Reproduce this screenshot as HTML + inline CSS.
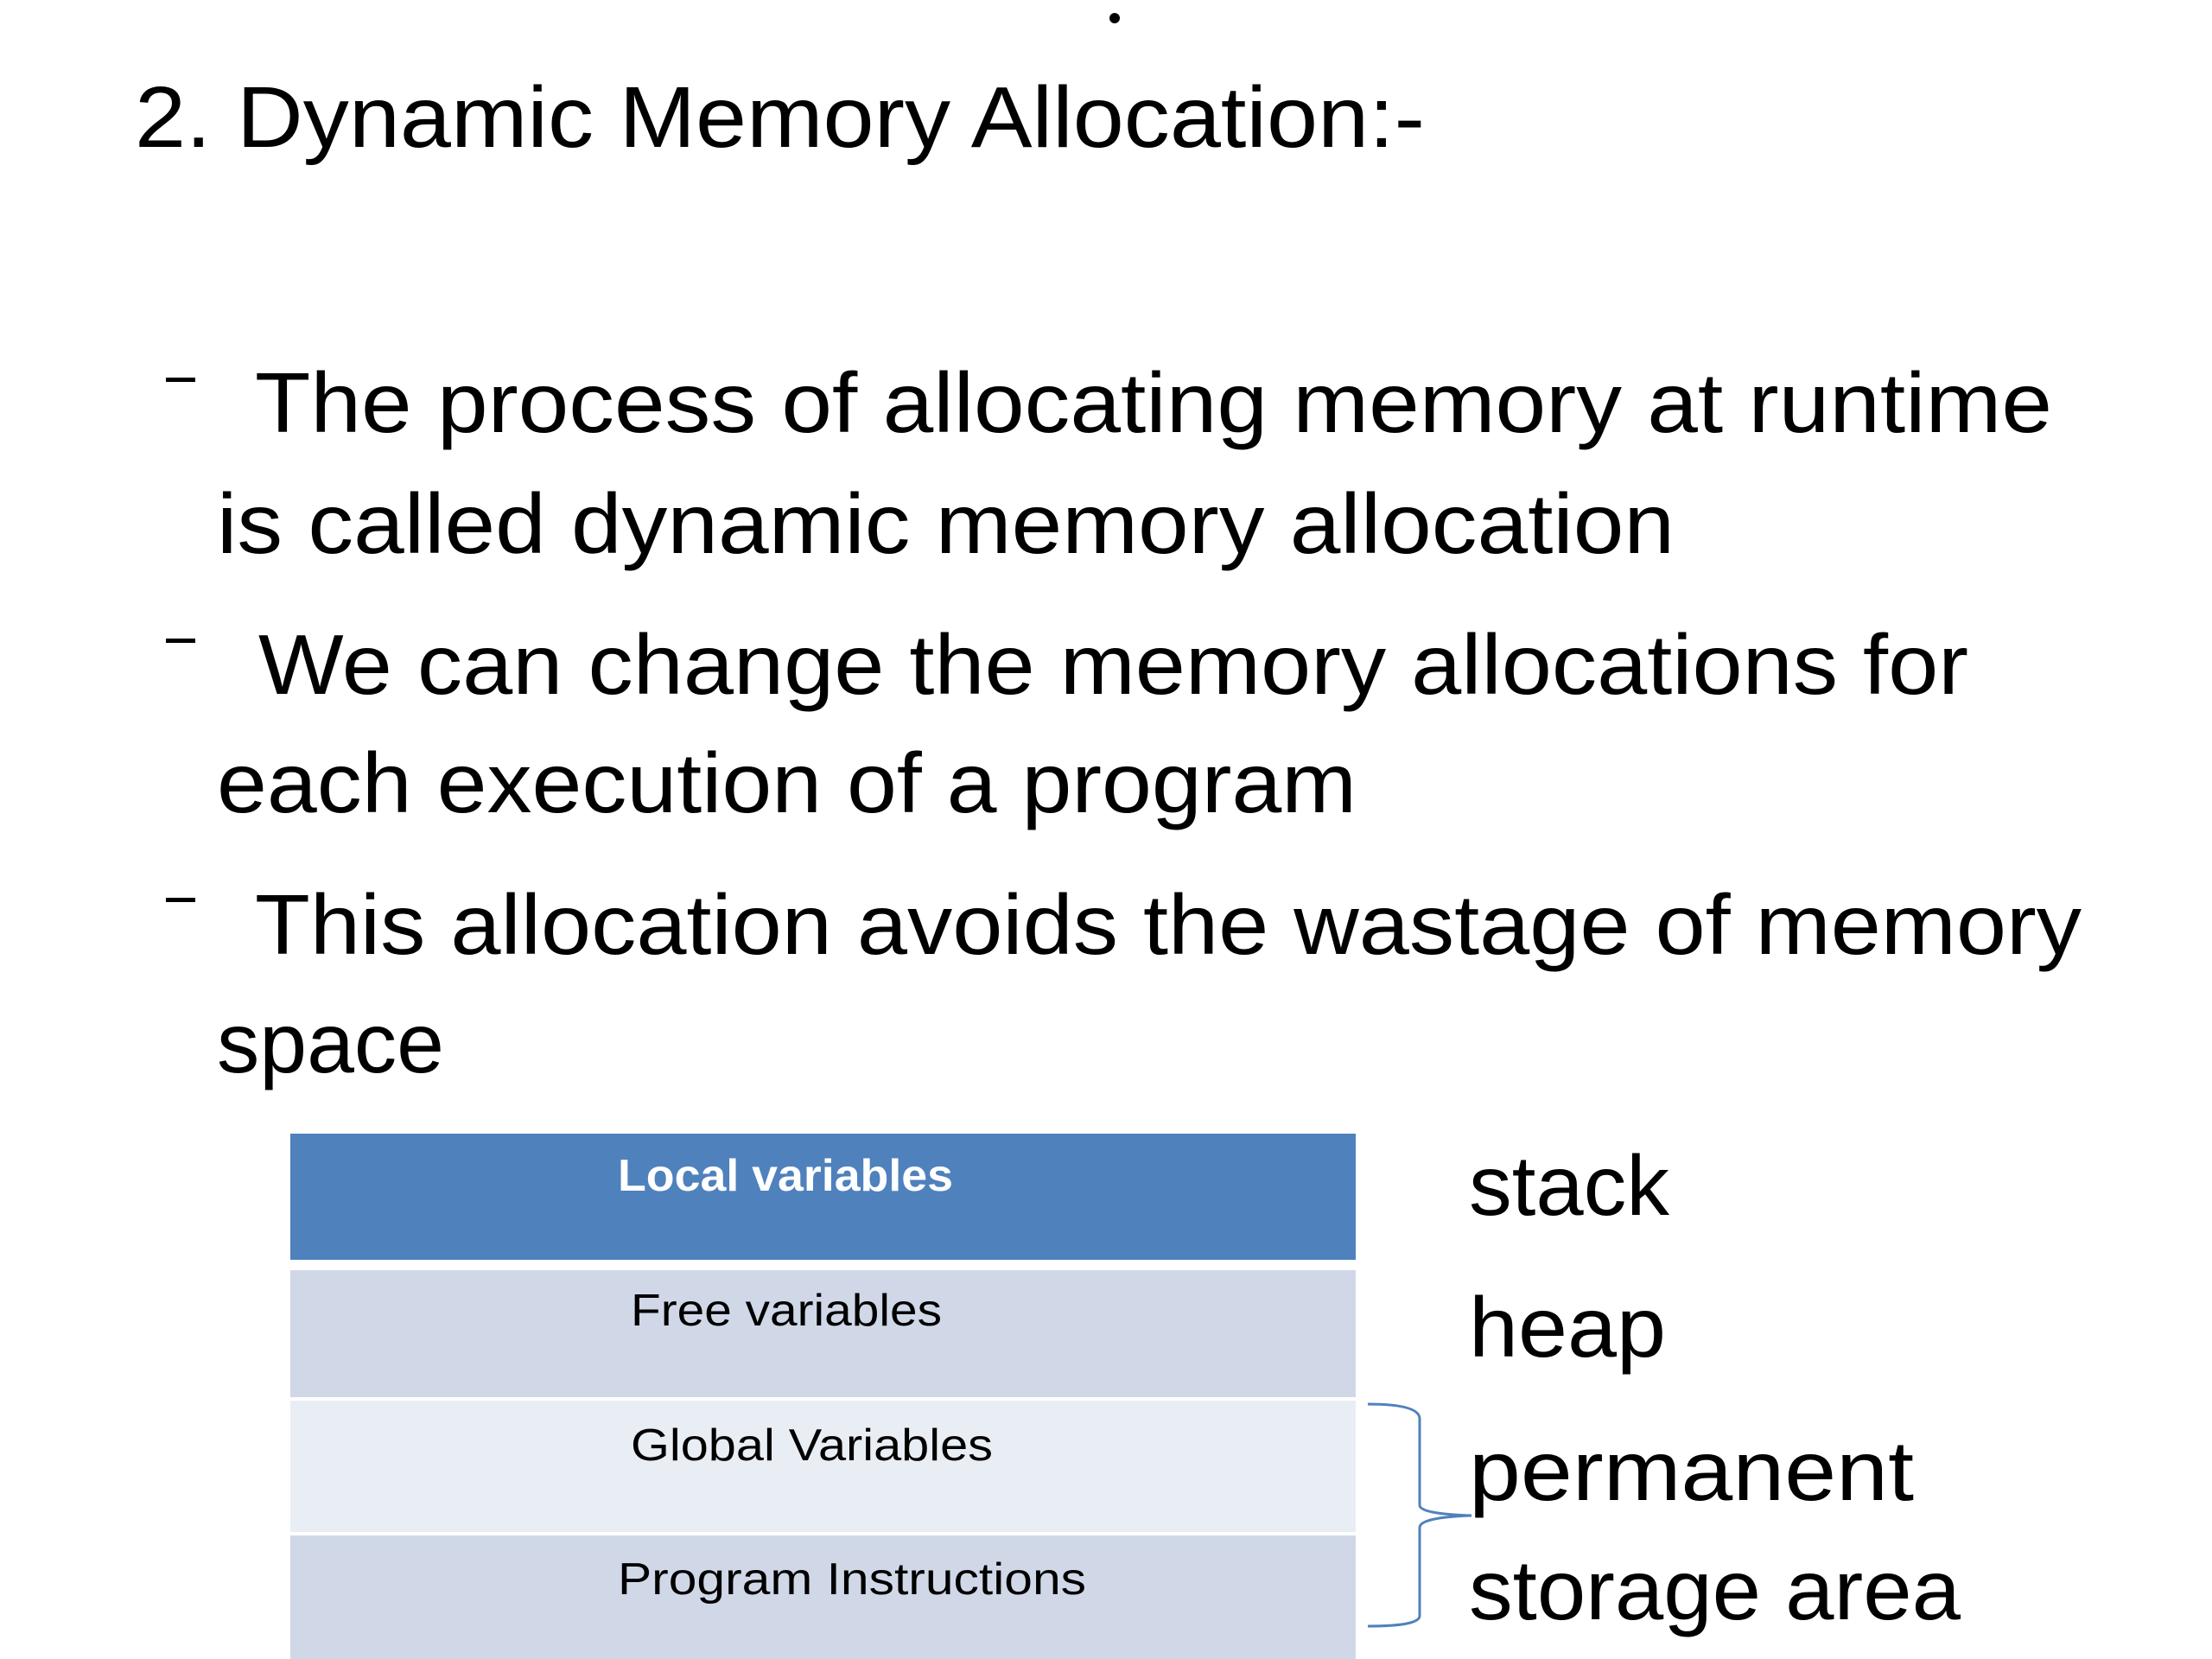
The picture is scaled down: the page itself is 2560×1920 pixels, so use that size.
<!DOCTYPE html>
<html><head><meta charset="utf-8"><style>
html,body{margin:0;padding:0;background:#fff;}
svg{display:block;}
text{font-family:"Liberation Sans",sans-serif;fill:#000;}
</style></head><body>
<svg width="2560" height="1920" viewBox="0 0 2560 1920" xmlns="http://www.w3.org/2000/svg">
<rect width="2560" height="1920" fill="#fff"/>
<circle cx="1290" cy="21" r="6" fill="#000"/>
<text x="156" y="170" font-size="100" textLength="1493" lengthAdjust="spacingAndGlyphs">2. Dynamic Memory Allocation:-</text>

<g fill="#000">
<rect x="192" y="437" width="34" height="5"/>
<rect x="192" y="739" width="34" height="5"/>
<rect x="192" y="1039" width="34" height="5"/>
</g>
<g font-size="98">
<text x="295" y="500" textLength="2080" lengthAdjust="spacingAndGlyphs">The process of allocating memory at runtime</text>
<text x="251" y="640" textLength="1687" lengthAdjust="spacingAndGlyphs">is called dynamic memory allocation</text>
<text x="299" y="803" textLength="1979" lengthAdjust="spacingAndGlyphs">We can change the memory allocations for</text>
<text x="251" y="940" textLength="1319" lengthAdjust="spacingAndGlyphs">each execution of a program</text>
<text x="295" y="1104" textLength="2114" lengthAdjust="spacingAndGlyphs">This allocation avoids the wastage of memory</text>
<text x="251" y="1241" textLength="263" lengthAdjust="spacingAndGlyphs">space</text>
</g>

<rect x="336" y="1312" width="1233" height="146" fill="#4f81bd"/>
<rect x="336" y="1470" width="1233" height="147" fill="#d0d8e8"/>
<rect x="336" y="1621" width="1233" height="152" fill="#e9edf4"/>
<rect x="336" y="1777" width="1233" height="143" fill="#d0d8e8"/>

<text x="715" y="1378" font-size="52" font-weight="bold" style="fill:#fff" textLength="388" lengthAdjust="spacingAndGlyphs">Local variables</text>
<text x="730" y="1534" font-size="52" textLength="360" lengthAdjust="spacingAndGlyphs">Free variables</text>
<text x="730" y="1690" font-size="52" textLength="419" lengthAdjust="spacingAndGlyphs">Global Variables</text>
<text x="715" y="1845" font-size="52" textLength="542" lengthAdjust="spacingAndGlyphs">Program Instructions</text>

<g font-size="98">
<text x="1700" y="1406" textLength="232" lengthAdjust="spacingAndGlyphs">stack</text>
<text x="1700" y="1570" textLength="228" lengthAdjust="spacingAndGlyphs">heap</text>
<text x="1700" y="1736" textLength="515" lengthAdjust="spacingAndGlyphs">permanent</text>
<text x="1700" y="1874" textLength="569" lengthAdjust="spacingAndGlyphs">storage area</text>
</g>

<path d="M1583 1625 Q1643 1625 1643 1642 L1643 1742 Q1643 1752 1703 1754 Q1643 1756 1643 1768 L1643 1870 Q1643 1882 1583 1882" fill="none" stroke="#4f81bd" stroke-width="3"/>
</svg>
</body></html>
